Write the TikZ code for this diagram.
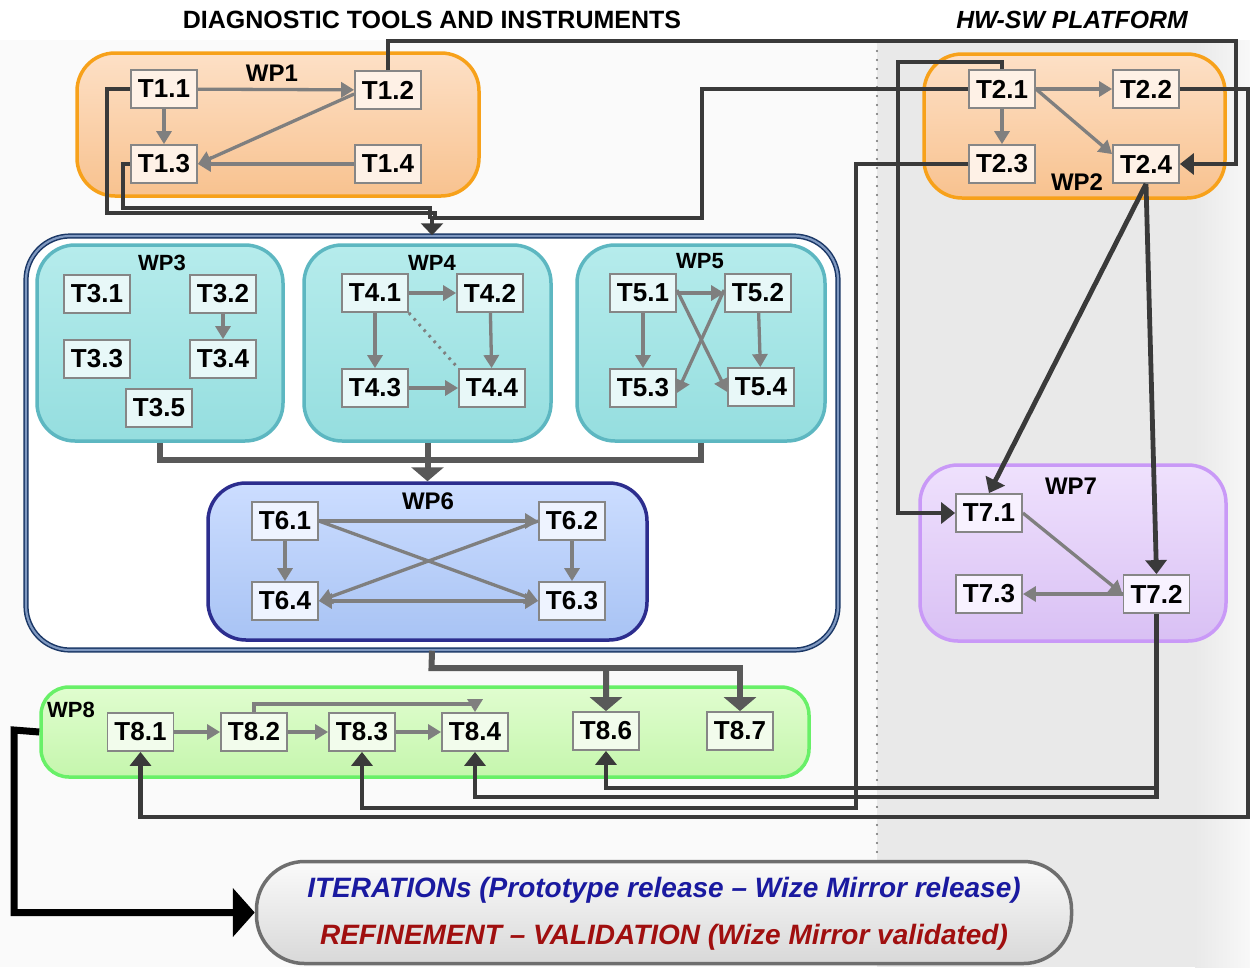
\documentclass[tikz,border=0pt]{standalone}
\usepackage{fontspec}
\setmainfont{Liberation Sans}
\usetikzlibrary{arrows.meta,calc}

% palette
\definecolor{tborder}{HTML}{868686}
\definecolor{thinarr}{HTML}{7F7F7F}
\definecolor{darkline}{HTML}{3A3A3A}
\definecolor{midline}{HTML}{595959}
\definecolor{orgB}{HTML}{F7A11A}
\definecolor{orgT}{HTML}{FDE0C6}
\definecolor{orgD}{HTML}{F8C28F}
\definecolor{tealB}{HTML}{5DB7C1}
\definecolor{tealT}{HTML}{B6ECEC}
\definecolor{tealD}{HTML}{95DEDF}
\definecolor{blueB}{HTML}{2C2D8E}
\definecolor{blueT}{HTML}{CCDDFF}
\definecolor{blueD}{HTML}{A8C3F4}
\definecolor{purB}{HTML}{C999F7}
\definecolor{purT}{HTML}{EFE1FD}
\definecolor{purD}{HTML}{D9C0F4}
\definecolor{grnB}{HTML}{68F068}
\definecolor{grnT}{HTML}{E0FDCF}
\definecolor{grnD}{HTML}{C5F6AD}
\definecolor{navy}{HTML}{1A3766}
\definecolor{navyL}{HTML}{7F98C0}
\definecolor{itblue}{HTML}{1A1AA0}
\definecolor{itred}{HTML}{A00F0F}
\definecolor{finB}{HTML}{6E6E6E}
\definecolor{finT}{HTML}{FAFAFA}
\definecolor{finD}{HTML}{D8D8D8}
\definecolor{fillOr}{HTML}{FEF1E6}
\definecolor{fillTe}{HTML}{E8F8F8}
\definecolor{fillBl}{HTML}{EEF3FF}
\definecolor{fillPu}{HTML}{F8F2FF}
\definecolor{fillGr}{HTML}{F2FCEC}
\definecolor{pageL}{HTML}{FAFAFA}
\definecolor{pageR}{HTML}{E9E9E9}
\definecolor{pageRR}{HTML}{F8F8F8}
\definecolor{dots}{HTML}{6E6E6E}

\newcommand\taskfont{\fontsize{26}{26}\selectfont\bfseries}
\newcommand\wpfont{\fontsize{24}{24}\selectfont\bfseries}
\newcommand\wpsmall{\fontsize{22}{22}\selectfont\bfseries}

\tikzset{
  task/.style={draw=tborder, line width=1.8pt, minimum width=66pt,
    minimum height=38pt, inner sep=0pt, font=\taskfont},
  tOr/.style={task, fill=fillOr},
  tTe/.style={task, fill=fillTe},
  tBl/.style={task, fill=fillBl},
  tPu/.style={task, fill=fillPu},
  tGr/.style={task, fill=fillGr},
  wpbox/.style={rounded corners=38pt, line width=3.5pt, inner sep=0pt},
  wpOr/.style={wpbox, draw=orgB, top color=orgT, bottom color=orgD},
  wpTe/.style={wpbox, draw=tealB, top color=tealT, bottom color=tealD},
  wpBl/.style={wpbox, draw=blueB, top color=blueT, bottom color=blueD},
  wpPu/.style={wpbox, draw=purB, top color=purT, bottom color=purD},
  wpGr/.style={wpbox, rounded corners=28pt, draw=grnB, top color=grnT, bottom color=grnD},
  wplab/.style={font=\wpfont, inner sep=0pt},
  arr/.style={draw=thinarr, line width=3.3pt, -{Triangle[length=13pt,width=15pt]}},
  darr/.style={draw=thinarr, line width=3.3pt, {Triangle[length=13pt,width=15pt]}-{Triangle[length=13pt,width=15pt]}},
  dk/.style={draw=darkline, line width=4.8pt},
  dka/.style={dk, -{Triangle[length=14pt,width=21pt]}},
  gk/.style={draw=midline, line width=6pt},
  gka/.style={gk, -{Triangle[length=14pt,width=32pt]}},
}

\begin{document}
\begin{tikzpicture}[x=1pt,y=-1pt]
\useasboundingbox (0,0) rectangle (1250,967);

% background: document area and the HW-SW platform band
\fill[white] (0,0) rectangle (1250,967);
\fill[pageL] (0,40) rectangle (877,967);
\fill[pageR] (877,40) rectangle (1250,967);
\shade[left color=pageR, right color=pageRR] (1195,40) rectangle (1250,967);
\draw[dots, line width=2.2pt, line cap=round, dash pattern=on 0pt off 9pt]
  (877,42) -- (877,856);

% headings
\node[font=\fontsize{25}{25}\selectfont\bfseries] (hdL) at (432,20) {DIAGNOSTIC TOOLS AND INSTRUMENTS};
\node[font=\fontsize{24.8}{24.8}\selectfont\bfseries\itshape] (hdR) at (1072,20) {HW-SW PLATFORM};

% work-package containers
\node[wpOr, minimum width=402pt, minimum height=143pt] (wp1) at (278,124.5) {};
\node[wpOr, minimum width=301pt, minimum height=144pt] (wp2) at (1074.5,126) {};

\node[draw=navy, double=navyL, double distance=2.2pt, line width=1.5pt, fill=white,
      rounded corners=44pt, minimum width=812pt, minimum height=414pt, inner sep=0pt] (outer) at (432,443) {};

\node[wpTe, minimum width=246pt, minimum height=196pt] (wp3) at (160,343) {};
\node[wpTe, minimum width=247pt, minimum height=196pt] (wp4) at (427.5,343) {};
\node[wpTe, minimum width=248pt, minimum height=196pt] (wp5) at (701,343) {};
\node[wpBl, minimum width=439pt, minimum height=157pt] (wp6) at (427.5,561.5) {};
\node[wpPu, minimum width=306pt, minimum height=176pt] (wp7) at (1073,553) {};
\node[wpGr, minimum width=768pt, minimum height=90pt] (wp8) at (425,732) {};

\node[draw=finB, line width=3.5pt, rounded corners=48pt, top color=finT,
      bottom color=finD, minimum width=815pt, minimum height=102pt,
      inner sep=0pt] (final) at (664,912.5) {};

% container labels
\node[wplab] (wp1t) at (272,73) {WP1};
\node[wplab] (wp2t) at (1077,182) {WP2};
\node[wplab, font=\wpsmall] (wp3t) at (162,263) {WP3};
\node[wplab, font=\wpsmall] (wp4t) at (432,263) {WP4};
\node[wplab, font=\wpsmall] (wp5t) at (700,261) {WP5};
\node[wplab] (wp6t) at (428,501) {WP6};
\node[wplab] (wp7t) at (1071,486) {WP7};
\node[wplab, font=\wpsmall] (wp8t) at (71,710) {WP8};

% tasks
\node[tOr] (T11) at (164,89) {T1.1};
\node[tOr] (T12) at (388,90) {T1.2};
\node[tOr] (T13) at (164,164) {T1.3};
\node[tOr] (T14) at (388,164) {T1.4};

\node[tOr] (T21) at (1002,89) {T2.1};
\node[tOr] (T22) at (1146,89) {T2.2};
\node[tOr] (T23) at (1002,164) {T2.3};
\node[tOr] (T24) at (1146,164) {T2.4};

\node[tTe] (T31) at (97,294) {T3.1};
\node[tTe] (T32) at (223,294) {T3.2};
\node[tTe] (T33) at (97,359) {T3.3};
\node[tTe] (T34) at (223,359) {T3.4};
\node[tTe] (T35) at (159,408) {T3.5};

\node[tTe] (T41) at (375,293) {T4.1};
\node[tTe] (T42) at (490,293) {T4.2};
\node[tTe] (T43) at (375,388) {T4.3};
\node[tTe] (T44) at (492,388) {T4.4};

\node[tTe] (T51) at (643,293) {T5.1};
\node[tTe] (T52) at (758,293) {T5.2};
\node[tTe] (T53) at (643,388) {T5.3};
\node[tTe] (T54) at (761,387) {T5.4};

\node[tBl] (T61) at (285,521) {T6.1};
\node[tBl] (T62) at (572,521) {T6.2};
\node[tBl] (T64) at (285,601) {T6.4};
\node[tBl] (T63) at (572,601) {T6.3};

\node[tPu] (T71) at (989,513) {T7.1};
\node[tPu] (T73) at (989,594) {T7.3};
\node[tPu] (T72) at (1156.5,594) {T7.2};

\node[tGr] (T81) at (140.5,732) {T8.1};
\node[tGr] (T82) at (254,732) {T8.2};
\node[tGr] (T83) at (362,732) {T8.3};
\node[tGr] (T84) at (475,732) {T8.4};
\node[tGr] (T86) at (606,731) {T8.6};
\node[tGr] (T87) at (740,731) {T8.7};

% final stage
\node[font=\fontsize{28}{28}\selectfont\bfseries\itshape, text=itblue] (it1) at (664,890)
  {ITERATIONs (Prototype release -- Wize Mirror release)};
\node[font=\fontsize{28}{28}\selectfont\bfseries\itshape, text=itred] (it2) at (664,937)
  {REFINEMENT -- VALIDATION (Wize Mirror validated)};

% dependencies inside the work packages
\draw[arr] (T11) -- (T12);
\draw[arr] (T11) -- (T13);
\draw[arr] ([yshift=-4pt]T12.west) -- (T13.east);
\draw[arr] (T14) -- (T13);

\draw[arr] (T21) -- (T22);
\draw[arr] (T21) -- (T23);
\draw[arr] (T21.east) -- ([yshift=-10pt]T24.north west);

\draw[arr] (T32) -- (T34);

\draw[arr] (T41) -- (T42);
\draw[arr] (T41) -- (T43);
\draw[arr] (T42) -- (T44);
\draw[arr] (T43) -- (T44);
\draw[draw=thinarr, line width=3pt, dash pattern=on 2.5pt off 5pt] (T41.south east) -- (T44.north west);

\draw[arr] (T51) -- (T52);
\draw[arr] (T51) -- (T53);
\draw[arr] (T52) -- (T54);
\draw[arr] ([yshift=3pt]T51.east) -- ([yshift=-5pt]T54.west);
\draw[arr] ([yshift=3pt]T52.west) -- ([yshift=-5pt]T53.east);

\draw[arr] (T61) -- (T62);
\draw[arr] (T61) -- (T64);
\draw[arr] (T62) -- (T63);
\draw[arr] (T61.east) -- (T63.west);
\draw[arr] (T62.west) -- (T64.east);
\draw[darr] (T64) -- (T63);

\draw[arr] (T71.east) -- (T72.west);
\draw[arr] (T72) -- (T73);

\draw[arr] (T81) -- (T82);
\draw[arr] (T82) -- (T83);
\draw[arr] (T83) -- (T84);
\draw[arr] (T82.north) -- ++(0,-8) -| (T84.north);

% flows between the work packages
\draw[dk] (T11.west) -- (107,89) |- (435,213) -- (435,219);
\draw[dk] (T13.west) -- (123,164) |- (430,208) -- (430,219);
\draw[dk, -{Triangle[length=12pt,width=22pt]}] (T21.west) -- (702,89) |- (432,218) -- (outer.north);

\draw[dka] (T12.north) |- (1236,41) |- (T24.east);
\draw[dka] (T21.north) |- (898,62) |- (T71.west);
\draw[dka] (T22.east) -| (1248,817) -| (T81.south);
\draw[dka] (T23.west) -| (856,808) -| (T83.south);
\draw[dka] (T24.south) -- (T71.north);
\draw[dka] (T24.south) -- (T72.north);
\draw[dka] (T72.south) -- (1156.5,788) -| (T86.south);
\draw[dka] (T72.south) -- (1156.5,797) -| (T84.south);

\draw[gk] (wp3.south) -- (160,460) -| (wp5.south);
\draw[gka] (wp4.south) -- (wp6.north);

\coordinate (split) at (606,668);
\draw[gka] (outer.south) -- (431.5,668) -| (T86.north);
\draw[gka] (split) -| (T87.north);

\draw[black, line width=7pt, -{Triangle[length=22pt,width=48pt]}] (wp8.west) -- (14,730) |- (final.west);

\end{tikzpicture}
\end{document}
